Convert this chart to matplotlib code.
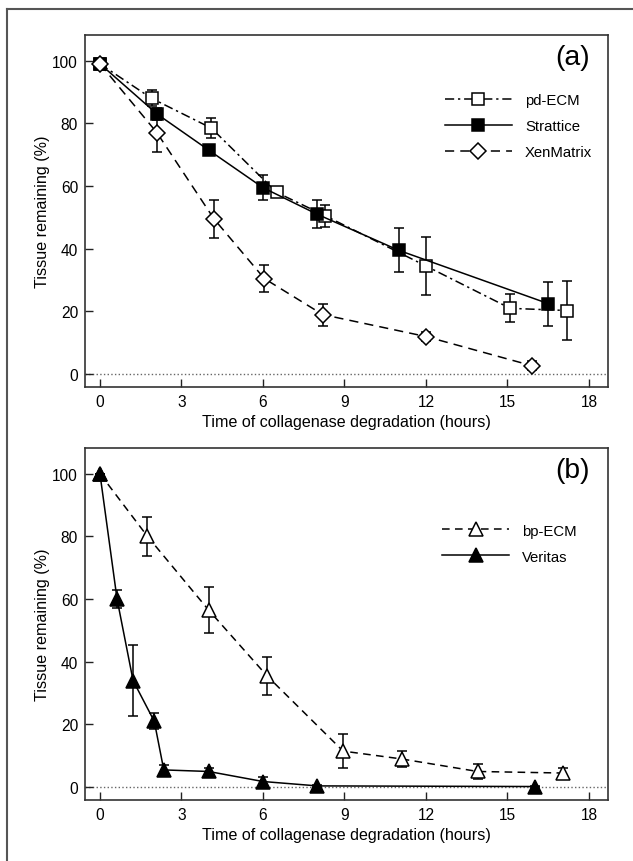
import matplotlib
matplotlib.use("Agg")
import matplotlib.pyplot as plt
from matplotlib import font_manager
from matplotlib.lines import Line2D

# narrow sans looks closest to the original; fall back to regular if missing
names = {f.name for f in font_manager.fontManager.ttflist}
narrow = 'Liberation Sans Narrow' in names
plt.rcParams['font.family'] = (['Liberation Sans Narrow'] if narrow else []) + ['Liberation Sans', 'DejaVu Sans']
k = 1.0 if narrow else 0.93

# panel (a)
pd_t = [0, 1.9, 4.1, 6.5, 8.3, 12.0, 15.1, 17.2]
pd_y = [99, 88, 78.5, 58, 50.5, 34.5, 21, 20.3]
pd_e = [1, 2.5, 3.3, 1.5, 3.5, 9.3, 4.5, 9.4]

st_t = [0, 2.1, 4.0, 6.0, 8.0, 11.0, 16.5]
st_y = [99, 83, 71.5, 59.5, 51, 39.5, 22.5]
st_e = [1, 2, 1.5, 4, 4.5, 7, 7]

xm_t = [0, 2.1, 4.2, 6.05, 8.2, 12.0, 15.9]
xm_y = [99, 77, 49.5, 30.5, 19, 12, 2.7]
xm_e = [1, 6, 6, 4.3, 3.5, 1.5, 1.5]

# panel (b)
bp_t = [0, 1.75, 4.0, 6.15, 8.95, 11.1, 13.9, 17.05]
bp_y = [100, 80, 56.5, 35.5, 11.5, 9, 5, 4.5]
bp_e = [0, 6.2, 7.3, 6, 5.5, 2.5, 2.5, 1.5]

ve_t = [0, 0.63, 1.22, 2.0, 2.35, 4.0, 6.0, 8.0, 16.0]
ve_y = [100, 60, 34, 21, 5.5, 5, 1.8, 0.4, 0.2]
ve_e = [0, 2.8, 11.2, 2.5, 1.5, 1.2, 1.5, 0.3, 0.2]

xticks = [0, 3, 6, 9, 12, 15, 18]
yticks = [0, 20, 40, 60, 80, 100]

fig = plt.figure(figsize=(6.33, 8.62), dpi=100)

# frame lines of the figure (left and top)
fig.add_artist(Line2D([7 / 633, 7 / 633], [0, 1 - 10 / 862], color='#555555', lw=1.5))
fig.add_artist(Line2D([7 / 633, 1], [1 - 10 / 862, 1 - 10 / 862], color='#555555', lw=1.5))

ax_a = fig.add_axes([85 / 633, 1 - 388 / 862, 523 / 633, 352 / 862])
ax_b = fig.add_axes([85 / 633, 1 - 801 / 862, 523 / 633, 352 / 862])


def series(ax, t, y, e, ls, marker, fill, ms, label):
    ax.errorbar(t, y, yerr=e, fmt='none', ecolor='black', elinewidth=1.1,
                capsize=3.3, capthick=1.1, zorder=2)
    ax.plot(t, y, color='black', lw=1.1, ls=ls, marker=marker, ms=ms,
            mfc=fill, mec='black', mew=1.1, label=label, zorder=3)


series(ax_a, pd_t, pd_y, pd_e, (0, (6, 2.5, 1.5, 2.5)), 's', 'white', 8.3, 'pd-ECM')
series(ax_a, st_t, st_y, st_e, '-', 's', 'black', 8.3, 'Strattice')
series(ax_a, xm_t, xm_y, xm_e, (0, (6, 4)), 'D', 'white', 7.8, 'XenMatrix')

series(ax_b, bp_t, bp_y, bp_e, (0, (5, 3.5)), '^', 'white', 10, 'bp-ECM')
series(ax_b, ve_t, ve_y, ve_e, '-', '^', 'black', 10, 'Veritas')

for ax, tag, leg_xy in [(ax_a, '(a)', (0.688, 0.835)), (ax_b, '(b)', (0.683, 0.785))]:
    ax.axhline(0, color='#666666', lw=1.0, ls=':', zorder=1)
    ax.set_xlim(-0.55, 18.7)
    ax.set_ylim(-4.1, 108.2)
    ax.set_xticks(xticks)
    ax.set_yticks(yticks)
    ax.tick_params(direction='in', length=6, width=1.0, labelsize=12 * k, pad=5,
                   color='#222222')
    for sp in ax.spines.values():
        sp.set_color('#333333')
        sp.set_linewidth(1.2)
    ax.set_xlabel('Time of collagenase degradation (hours)', fontsize=12.5 * k, labelpad=4)
    ax.set_ylabel('Tissue remaining (%)', fontsize=12.5 * k, labelpad=2)
    ax.text(0.932, 0.937, tag, transform=ax.transAxes, fontsize=22 * k,
            ha='center', va='center')
    ax.legend(loc='upper left', bbox_to_anchor=leg_xy, frameon=False,
              fontsize=11.5 * k, handlelength=4.5, handletextpad=0.9,
              labelspacing=0.8, borderpad=0, borderaxespad=0)

fig.savefig('out.png', dpi=100)
